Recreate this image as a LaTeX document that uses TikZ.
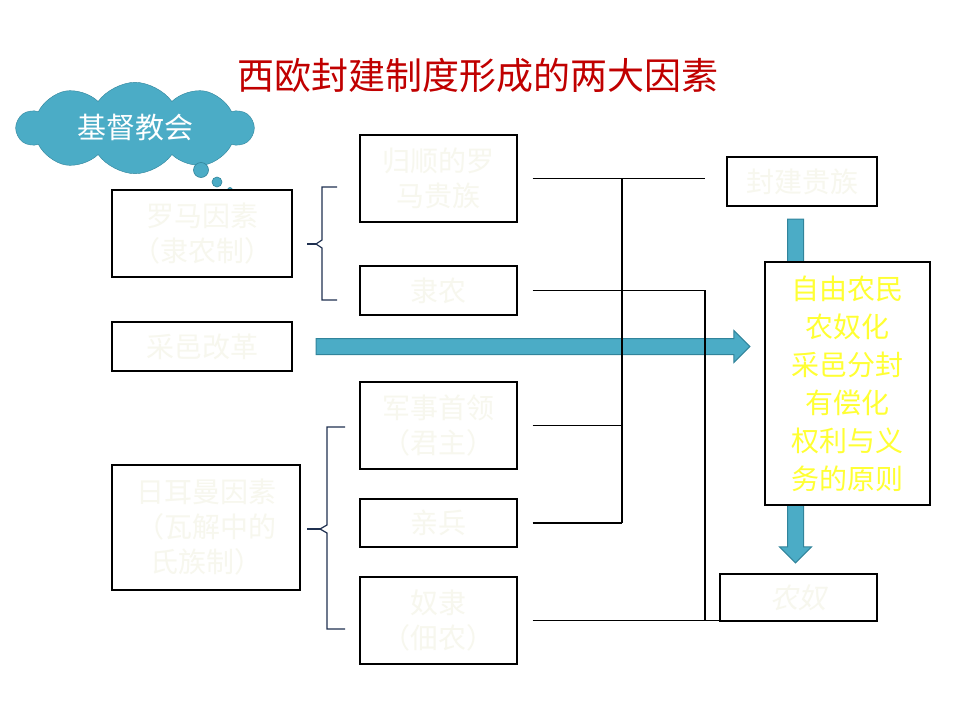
\documentclass[tikz,border=0pt]{standalone}
\usepackage{fontspec}
\setmainfont{Noto Sans CJK SC}
\newfontfamily\slantcjk[FakeSlant=0.2]{Noto Sans CJK SC}
\usepackage{tikz}
\usetikzlibrary{arrows.meta,positioning,calc,backgrounds,shapes.symbols,shapes.arrows}
\usepackage{xcolor}
\definecolor{Aqua}{HTML}{4BACC6}
\definecolor{AquaEdge}{HTML}{31849B}
\definecolor{TitleRed}{HTML}{C00000}
\definecolor{Faint}{HTML}{F7F7EE}
\definecolor{Glow}{HTML}{FFFF33}
\definecolor{BraceNavy}{HTML}{1F3050}

\begin{document}
\begin{tikzpicture}[x=1pt,y=-1pt,
  cell/.style={draw=black,line width=1.2pt,fill=white,inner sep=0pt,align=center,
    text=Faint,font=\fontsize{28}{35}\selectfont},
  wire/.style={line width=1.2pt},
  bracket/.style={draw=BraceNavy,line width=1.2pt},
  blockarrow/.style={single arrow,fill=Aqua,draw=AquaEdge,line width=1pt,
    minimum width=31pt,single arrow head extend=8pt,inner sep=7.5pt,anchor=tail}]
  \useasboundingbox (0,0) rectangle (960,720);

  \node[font=\fontsize{37}{40}\selectfont,text=TitleRed] (title) at (478,75) {西欧封建制度形成的两大因素};

  % cloud and its bubbles
  \node[cloud,cloud puffs=10,cloud puff arc=110,aspect=2.4,fill=Aqua,draw=AquaEdge,text=white,
    font=\fontsize{29}{30}\selectfont,minimum width=236pt,minimum height=80pt,inner sep=0pt] (church) at (135,128) {基督教会};
  \foreach \cx/\cy/\r in {201/170/7.5,217/182/5,230/190/2.5}
    \filldraw[fill=Aqua,draw=AquaEdge,line width=0.6pt] (\cx,\cy) circle (\r pt);

  % left column
  \node[cell,minimum width=180pt,minimum height=87pt] (roman) at (202,233.5) {罗马因素\\（隶农制）};
  \node[cell,minimum width=180pt,minimum height=49pt] (fief) at (202,346.5) {采邑改革};
  \node[cell,minimum width=188pt,minimum height=125pt] (german) at (206,527.5) {日耳曼因素\\（瓦解中的\\氏族制）};

  % middle column
  \node[cell,minimum width=157pt,minimum height=87pt] (nobles) at (438.5,178.5) {归顺的罗\\马贵族};
  \node[cell,minimum width=157pt,minimum height=49pt] (coloni) at (438.5,290.5) {隶农};
  \node[cell,minimum width=157pt,minimum height=87pt] (chief) at (438.5,425.5) {军事首领\\（君主）};
  \node[cell,minimum width=157pt,minimum height=48pt] (retinue) at (438.5,523) {亲兵};
  \node[cell,minimum width=157pt,minimum height=87pt] (slaves) at (438.5,620.5) {奴隶\\（佃农）};

  % right column
  \node[cell,minimum width=150pt,minimum height=49pt] (lords) at (802,181.5) {封建贵族};
  \node[cell,minimum width=165pt,minimum height=243pt,text=Glow,font=\fontsize{28}{38}\selectfont] (outcome) at (847.5,383.5)
    {自由农民\\农奴化\\采邑分封\\有偿化\\权利与义\\务的原则};
  \node[cell,minimum width=157pt,minimum height=47pt,font=\fontsize{28}{35}\slantcjk] (serfs) at (798.5,597.5) {农奴};

  % block arrows behind the boxes
  \begin{scope}[on background layer]
    \path let \p1=([xshift=23pt]fief.east), \p2=([xshift=-15pt]outcome.west) in
      node[blockarrow,minimum height={\x2-\x1}] (flow) at (\p1) {};
    \path let \p1=([xshift=-6.5pt,yshift=-12pt]lords.south), \p2=([yshift=11pt]serfs.north) in
      node[blockarrow,shape border rotate=270,minimum height={\y1-\y2}] (descent) at (\p1) {};
  \end{scope}

  % braces
  \coordinate (b1tip) at (307,244);
  \coordinate (b2tip) at (307,529);
  \draw[bracket] (337,187) -- (322,187) -- (322,240) -- (316,244) -- (322,248) -- (322,300) -- (337,300);
  \draw[bracket] (b1tip) -- (316,244);
  \draw[bracket] (345,427) -- (327,427) -- (327,525) -- (320,529) -- (327,533) -- (327,629) -- (345,629);
  \draw[bracket] (b2tip) -- (320,529);

  % joining lines
  \coordinate (busL) at (622,178.5);
  \coordinate (busR) at (705,290.5);
  \coordinate (lordsEnd) at (705,178.5);
  \draw[wire] ([xshift=15pt]nobles.east) -- (lordsEnd);
  \draw[wire] (busL) -- (busL |- retinue.east);
  \foreach \n in {chief,retinue}
    \draw[wire] ([xshift=15pt]\n.east) -- (busL |- \n.east);
  \draw[wire] ([xshift=15pt]coloni.east) -- (busR) -- (busR |- slaves.east);
  \draw[wire] ([xshift=15pt]slaves.east) -- (slaves.east -| serfs.west);
\end{tikzpicture}
\end{document}
